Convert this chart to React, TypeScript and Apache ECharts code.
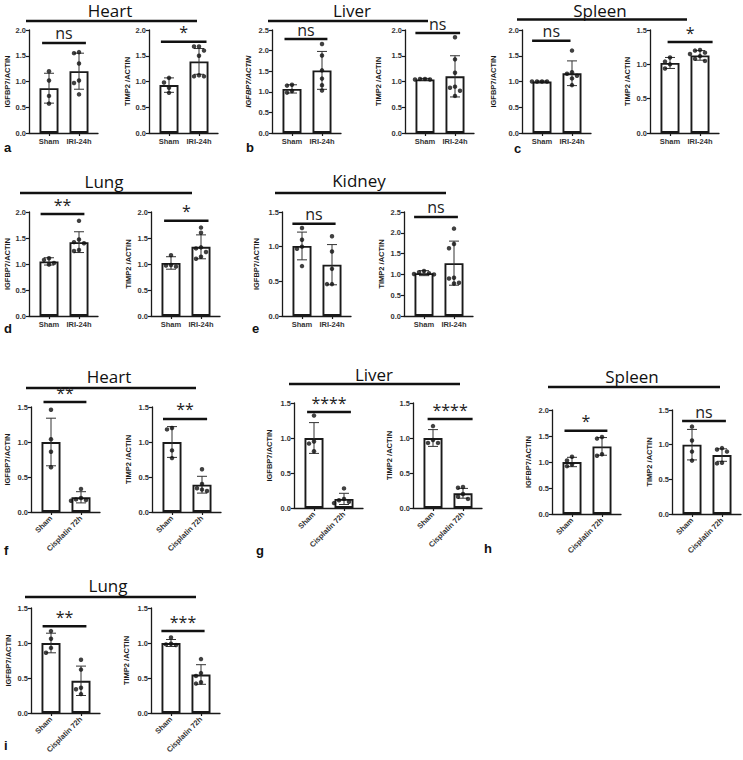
import React, { useEffect, useRef } from 'react';
import * as echarts from 'echarts';

// ---------- categories & ticks ----------
const iriCategories = ['Sham', 'IRI-24h'];
const cisCategories = ['Sham', 'Cisplatin 72h'];
const yTickStep = 0.5;

// ---------- IRI-24h panels (means, SD, individual points [sham, injury]) ----------
const heartIriIgfbp7Mean = [0.87, 1.2];
const heartIriIgfbp7Sd = [0.29, 0.35];
const heartIriIgfbp7Points = [[1.2, 1.02, 0.72, 0.57], [1.57, 1.55, 1.35, 1.02, 0.97, 0.75]];

const heartIriTimp2Mean = [0.93, 1.39];
const heartIriTimp2Sd = [0.14, 0.25];
const heartIriTimp2Points = [[1.07, 0.98, 0.88, 0.78], [1.68, 1.68, 1.6, 1.5, 1.12, 1.1, 1.1]];

const liverIriIgfbp7Mean = [1.07, 1.52];
const liverIriIgfbp7Sd = [0.1, 0.46];
const liverIriIgfbp7Points = [[1.17, 1.15, 1.02, 0.98], [2.16, 1.88, 1.52, 1.32, 1.16, 1.03]];

const liverIriTimp2Mean = [1.04, 1.1];
const liverIriTimp2Sd = [0.02, 0.4];
const liverIriTimp2Points = [[1.05, 1.05, 1.04, 1.04], [1.86, 1.43, 1.17, 0.9, 0.88, 0.82, 0.72]];

const spleenIriIgfbp7Mean = [1.0, 1.16];
const spleenIriIgfbp7Sd = [0.01, 0.24];
const spleenIriIgfbp7Points = [[1.0, 1.0, 1.0, 1.0], [1.6, 1.18, 1.15, 1.11, 1.06, 0.93]];

const spleenIriTimp2Mean = [1.02, 1.13];
const spleenIriTimp2Sd = [0.08, 0.07];
const spleenIriTimp2Points = [[1.1, 1.04, 1.0, 0.94], [1.21, 1.2, 1.17, 1.15, 1.12, 1.08, 1.05]];

const lungIriIgfbp7Mean = [1.05, 1.42];
const lungIriIgfbp7Sd = [0.07, 0.2];
const lungIriIgfbp7Points = [[1.11, 1.08, 1.02, 0.99], [1.83, 1.47, 1.42, 1.4, 1.27, 1.25]];

const lungIriTimp2Mean = [1.02, 1.33];
const lungIriTimp2Sd = [0.12, 0.23];
const lungIriTimp2Points = [[1.17, 0.98, 0.97, 0.95], [1.7, 1.6, 1.32, 1.3, 1.23, 1.14, 1.1]];

const kidneyIriIgfbp7Mean = [1.01, 0.74];
const kidneyIriIgfbp7Sd = [0.2, 0.29];
const kidneyIriIgfbp7Points = [[1.27, 1.1, 1.0, 0.97, 0.72], [1.15, 0.93, 0.68, 0.46, 0.46]];

const kidneyIriTimp2Mean = [1.03, 1.27];
const kidneyIriTimp2Sd = [0.06, 0.53];
const kidneyIriTimp2Points = [[1.08, 1.05, 1.03, 1.01, 1.0], [2.1, 1.73, 1.63, 0.92, 0.9, 0.8, 0.78]];

// ---------- Cisplatin 72h panels ----------
const heartCisIgfbp7Mean = [1.0, 0.21];
const heartCisIgfbp7Sd = [0.34, 0.08];
const heartCisIgfbp7Points = [[1.46, 1.04, 0.86, 0.64], [0.33, 0.2, 0.18, 0.17, 0.16]];

const heartCisTimp2Mean = [1.0, 0.39];
const heartCisTimp2Sd = [0.22, 0.12];
const heartCisTimp2Points = [[1.2, 1.18, 0.88, 0.77], [0.61, 0.4, 0.34, 0.32, 0.3]];

const liverCisIgfbp7Mean = [1.0, 0.13];
const liverCisIgfbp7Sd = [0.22, 0.08];
const liverCisIgfbp7Points = [[1.32, 0.95, 0.92, 0.81], [0.28, 0.13, 0.11, 0.09, 0.07]];

const liverCisTimp2Mean = [1.0, 0.21];
const liverCisTimp2Sd = [0.12, 0.07];
const liverCisTimp2Points = [[1.17, 0.97, 0.93, 0.93], [0.3, 0.29, 0.2, 0.16, 0.13]];

const spleenCisIgfbp7Mean = [1.0, 1.3];
const spleenCisIgfbp7Sd = [0.09, 0.17];
const spleenCisIgfbp7Points = [[1.1, 1.03, 0.95, 0.92], [1.48, 1.45, 1.15, 1.12]];

const spleenCisTimp2Mean = [1.0, 0.85];
const spleenCisTimp2Sd = [0.22, 0.09];
const spleenCisTimp2Points = [[1.26, 1.06, 0.9, 0.77], [0.95, 0.93, 0.9, 0.74, 0.73]];

const lungCisIgfbp7Mean = [1.0, 0.46];
const lungCisIgfbp7Sd = [0.14, 0.21];
const lungCisIgfbp7Points = [[1.17, 1.06, 0.93, 0.86], [0.76, 0.62, 0.36, 0.34, 0.27]];

const lungCisTimp2Mean = [1.0, 0.55];
const lungCisTimp2Sd = [0.05, 0.14];
const lungCisTimp2Points = [[1.08, 0.99, 0.98, 0.97], [0.77, 0.57, 0.53, 0.44, 0.42]];

// ---------- axis maxima & significance labels ----------
const yMaxIri = [2, 2, 2.5, 2, 2, 1.5, 2, 2, 1.5, 2.5];
const yMaxCis = [1.5, 1.5, 1.5, 1.5, 2, 1.5, 1.5, 1.5];
const sigIri = ['ns', '*', 'ns', 'ns', 'ns', '*', '**', '*', 'ns', 'ns'];
const sigCis = ['**', '**', '****', '****', '*', 'ns', '**', '***'];

const IGF = 'IGFBP7/ACTIN';
const TIMP = 'TIMP2 /ACTIN';

// ---------- layout (pixels / label geometry) ----------
const GRID_W = 69;
const X_MIN = -20 / 30;
const X_MAX = (GRID_W - 20) / 30;
const PX_PER_CAT = 30;

const LAYOUT = [
  { left: 29, top: 30, h: 103, gap: 17, sx: [-0.23, 1.23], sy: 1.75 },
  { left: 149, top: 30, h: 103, gap: 18, sx: [-0.27, 1.25], sy: 1.77 },
  { left: 272, top: 30, h: 103, gap: 20, sx: [-0.25, 1.18], sy: 2.28, italic: true },
  { left: 405, top: 30, h: 103, gap: 23, sx: [-0.32, 1.17], sy: 1.94 },
  { left: 522, top: 30, h: 103, gap: 25, sx: [-0.33, 0.95], sy: 1.79 },
  { left: 650, top: 30, h: 103, gap: 19, sx: [-0.08, 1.42], sy: 1.325 },
  { left: 29, top: 212, h: 104, gap: 17, sx: [-0.28, 1.18], sy: 1.96 },
  { left: 151, top: 212, h: 104, gap: 19, sx: [-0.23, 1.25], sy: 1.83 },
  { left: 282, top: 212, h: 104, gap: 22, sx: [-0.32, 1.12], sy: 1.33 },
  { left: 404, top: 212, h: 104, gap: 19, sx: [-0.33, 1.13], sy: 2.38 },
  { left: 31, top: 407, h: 105, gap: 20, sx: [-0.25, 1.18], sy: 1.57 },
  { left: 152, top: 407, h: 105, gap: 20, sx: [-0.3, 1.17], sy: 1.33 },
  { left: 294, top: 403, h: 105, gap: 21, sx: [-0.23, 1.23], sy: 1.37 },
  { left: 413, top: 403, h: 105, gap: 20, sx: [-0.18, 1.32], sy: 1.27 },
  { left: 552, top: 410, h: 104, gap: 20, sx: [-0.25, 1.18], sy: 1.6 },
  { left: 672, top: 410, h: 104, gap: 19, sx: [-0.33, 1.13], sy: 1.34 },
  { left: 31, top: 608, h: 105, gap: 19, sx: [-0.28, 1.18], sy: 1.24 },
  { left: 151, top: 608, h: 105, gap: 21, sx: [-0.32, 1.12], sy: 1.17 },
];

const TITLES = [
  { text: 'Heart', x: 110, y: 10.5, x1: 26, x2: 197, ly: 21 },
  { text: 'Liver', x: 352, y: 10.5, x1: 268, x2: 428, ly: 21 },
  { text: 'Spleen', x: 600, y: 10.5, x1: 517, x2: 687, ly: 19.5 },
  { text: 'Lung', x: 104, y: 181, x1: 20, x2: 192, ly: 193 },
  { text: 'Kidney', x: 359, y: 180, x1: 275, x2: 446, ly: 193 },
  { text: 'Heart', x: 109, y: 376, x1: 26, x2: 196, ly: 388 },
  { text: 'Liver', x: 374, y: 374, x1: 289, x2: 460, ly: 384 },
  { text: 'Spleen', x: 632, y: 376, x1: 548, x2: 720, ly: 387 },
  { text: 'Lung', x: 108, y: 585, x1: 25, x2: 196, ly: 597 },
];

const LETTERS = [
  { t: 'a', x: 4, y: 147 }, { t: 'b', x: 246, y: 147 }, { t: 'c', x: 514, y: 148 },
  { t: 'd', x: 4, y: 328 }, { t: 'e', x: 252, y: 328 },
  { t: 'f', x: 4, y: 550 }, { t: 'g', x: 256, y: 550 }, { t: 'h', x: 484, y: 548 },
  { t: 'i', x: 4, y: 745 },
];

type Panel = {
  cats: string[]; yName: string; max: number; sig: string;
  mean: number[]; sd: number[]; pts: number[][]; rotate: number;
};

const PANELS: Panel[] = [
  { cats: iriCategories, yName: IGF, max: yMaxIri[0], sig: sigIri[0], mean: heartIriIgfbp7Mean, sd: heartIriIgfbp7Sd, pts: heartIriIgfbp7Points, rotate: 0 },
  { cats: iriCategories, yName: TIMP, max: yMaxIri[1], sig: sigIri[1], mean: heartIriTimp2Mean, sd: heartIriTimp2Sd, pts: heartIriTimp2Points, rotate: 0 },
  { cats: iriCategories, yName: IGF, max: yMaxIri[2], sig: sigIri[2], mean: liverIriIgfbp7Mean, sd: liverIriIgfbp7Sd, pts: liverIriIgfbp7Points, rotate: 0 },
  { cats: iriCategories, yName: TIMP, max: yMaxIri[3], sig: sigIri[3], mean: liverIriTimp2Mean, sd: liverIriTimp2Sd, pts: liverIriTimp2Points, rotate: 0 },
  { cats: iriCategories, yName: IGF, max: yMaxIri[4], sig: sigIri[4], mean: spleenIriIgfbp7Mean, sd: spleenIriIgfbp7Sd, pts: spleenIriIgfbp7Points, rotate: 0 },
  { cats: iriCategories, yName: TIMP, max: yMaxIri[5], sig: sigIri[5], mean: spleenIriTimp2Mean, sd: spleenIriTimp2Sd, pts: spleenIriTimp2Points, rotate: 0 },
  { cats: iriCategories, yName: IGF, max: yMaxIri[6], sig: sigIri[6], mean: lungIriIgfbp7Mean, sd: lungIriIgfbp7Sd, pts: lungIriIgfbp7Points, rotate: 0 },
  { cats: iriCategories, yName: TIMP, max: yMaxIri[7], sig: sigIri[7], mean: lungIriTimp2Mean, sd: lungIriTimp2Sd, pts: lungIriTimp2Points, rotate: 0 },
  { cats: iriCategories, yName: IGF, max: yMaxIri[8], sig: sigIri[8], mean: kidneyIriIgfbp7Mean, sd: kidneyIriIgfbp7Sd, pts: kidneyIriIgfbp7Points, rotate: 0 },
  { cats: iriCategories, yName: TIMP, max: yMaxIri[9], sig: sigIri[9], mean: kidneyIriTimp2Mean, sd: kidneyIriTimp2Sd, pts: kidneyIriTimp2Points, rotate: 0 },
  { cats: cisCategories, yName: IGF, max: yMaxCis[0], sig: sigCis[0], mean: heartCisIgfbp7Mean, sd: heartCisIgfbp7Sd, pts: heartCisIgfbp7Points, rotate: 45 },
  { cats: cisCategories, yName: TIMP, max: yMaxCis[1], sig: sigCis[1], mean: heartCisTimp2Mean, sd: heartCisTimp2Sd, pts: heartCisTimp2Points, rotate: 45 },
  { cats: cisCategories, yName: IGF, max: yMaxCis[2], sig: sigCis[2], mean: liverCisIgfbp7Mean, sd: liverCisIgfbp7Sd, pts: liverCisIgfbp7Points, rotate: 45 },
  { cats: cisCategories, yName: TIMP, max: yMaxCis[3], sig: sigCis[3], mean: liverCisTimp2Mean, sd: liverCisTimp2Sd, pts: liverCisTimp2Points, rotate: 45 },
  { cats: cisCategories, yName: IGF, max: yMaxCis[4], sig: sigCis[4], mean: spleenCisIgfbp7Mean, sd: spleenCisIgfbp7Sd, pts: spleenCisIgfbp7Points, rotate: 45 },
  { cats: cisCategories, yName: TIMP, max: yMaxCis[5], sig: sigCis[5], mean: spleenCisTimp2Mean, sd: spleenCisTimp2Sd, pts: spleenCisTimp2Points, rotate: 45 },
  { cats: cisCategories, yName: IGF, max: yMaxCis[6], sig: sigCis[6], mean: lungCisIgfbp7Mean, sd: lungCisIgfbp7Sd, pts: lungCisIgfbp7Points, rotate: 45 },
  { cats: cisCategories, yName: TIMP, max: yMaxCis[7], sig: sigCis[7], mean: lungCisTimp2Mean, sd: lungCisTimp2Sd, pts: lungCisTimp2Points, rotate: 45 },
];

// simple beeswarm layout so that dots do not overlap
function swarm(vals: number[], center: number, pxPerUnit: number): number[][] {
  const placed: number[][] = [];
  const out: number[][] = [];
  const order = vals.map((_, i) => i).sort((a, b) => vals[b] - vals[a]);
  const cands = [0, -5, 5, -10, 10, -15, 15, -20, 20];
  for (const i of order) {
    const y = vals[i] * pxPerUnit;
    let off = 0;
    for (const c of cands) {
      if (placed.every(([px, py]) => Math.hypot(px - c, py - y) >= 5)) { off = c; break; }
    }
    placed.push([off, y]);
    out.push([center + off / PX_PER_CAT, vals[i]]);
  }
  return out;
}

const LABEL_FONT = 'Liberation Sans';
const INK = '#1a1a1a';

function buildOption() {
  const grid: any[] = [];
  const xAxis: any[] = [];
  const yAxis: any[] = [];
  const series: any[] = [];

  PANELS.forEach((p, i) => {
    const L = LAYOUT[i];
    grid.push({ left: L.left, top: L.top, width: GRID_W, height: L.h });
    xAxis.push({
      type: 'value', gridIndex: i, min: X_MIN, max: X_MAX,
      axisLine: { show: true, onZero: false, lineStyle: { color: INK, width: 1.3 } },
      splitLine: { show: false },
      axisTick: { show: true, customValues: [0, 1], length: 3, lineStyle: { color: INK, width: 1.2 } },
      axisLabel: {
        show: true, customValues: [0, 1],
        formatter: (v: number) => p.cats[Math.round(v)],
        rotate: p.rotate, margin: p.rotate ? 5 : 4,
        fontSize: 7.5, fontWeight: 'bold', fontFamily: LABEL_FONT, color: '#333',
      },
    });
    yAxis.push({
      type: 'value', gridIndex: i, min: 0, max: p.max, interval: yTickStep,
      name: p.yName, nameLocation: 'middle', nameGap: L.gap,
      nameTextStyle: {
        fontSize: 7.5, fontWeight: 'bold', fontFamily: LABEL_FONT, color: INK,
        fontStyle: (L as any).italic ? 'italic' : 'normal',
      },
      axisLine: { show: true, onZero: false, lineStyle: { color: INK, width: 1.3 } },
      axisTick: { show: true, length: 3, lineStyle: { color: INK, width: 1.2 } },
      splitLine: { show: false },
      axisLabel: {
        formatter: (v: number) => v.toFixed(1), margin: 3,
        fontSize: 7.5, fontWeight: 'bold', fontFamily: LABEL_FONT, color: '#333',
      },
    });
    series.push({
      type: 'bar', xAxisIndex: i, yAxisIndex: i, barWidth: 19, silent: true, z: 2,
      data: p.mean.map((m, k) => [k, m]),
      itemStyle: { color: '#fff', borderColor: INK, borderWidth: 1.9 },
    });
    series.push({
      type: 'custom', xAxisIndex: i, yAxisIndex: i, silent: true, z: 3,
      encode: { x: 0, y: 1 },
      data: p.mean.map((m, k) => [k, m, p.sd[k]]),
      renderItem: (params: any, api: any) => {
        const x = api.value(0), m = api.value(1), s = api.value(2);
        const t = api.coord([x, m + s]);
        const b = api.coord([x, m - s]);
        const cap = 5;
        const st = { stroke: '#333', lineWidth: 1 };
        return {
          type: 'group', children: [
            { type: 'line', shape: { x1: t[0], y1: t[1], x2: b[0], y2: b[1] }, style: st },
            { type: 'line', shape: { x1: t[0] - cap, y1: t[1], x2: t[0] + cap, y2: t[1] }, style: st },
            { type: 'line', shape: { x1: b[0] - cap, y1: b[1], x2: b[0] + cap, y2: b[1] }, style: st },
          ],
        };
      },
    });
    const ppu = L.h / p.max;
    const dots = [...swarm(p.pts[0], 0, ppu), ...swarm(p.pts[1], 1, ppu)];
    series.push({
      type: 'scatter', xAxisIndex: i, yAxisIndex: i, silent: true, z: 4,
      symbolSize: 4.5, itemStyle: { color: '#111' }, data: dots,
    });
    series.push({
      type: 'custom', xAxisIndex: i, yAxisIndex: i, silent: true, z: 5, clip: false,
      encode: { x: [0, 1], y: 2 },
      data: [[L.sx[0], L.sx[1], L.sy]],
      renderItem: (params: any, api: any) => {
        const a = api.coord([api.value(0), api.value(2)]);
        const b = api.coord([api.value(1), api.value(2)]);
        return {
          type: 'group', children: [
            { type: 'line', shape: { x1: a[0], y1: a[1], x2: b[0], y2: b[1] }, style: { stroke: '#111', lineWidth: 2.5 } },
            {
              type: 'text', x: (a[0] + b[0]) / 2, y: a[1] - 1.5,
              style: {
                text: p.sig, fill: '#222', fontSize: 16, fontFamily: 'Open Sans',
                align: 'center', verticalAlign: 'bottom', textAlign: 'center', textVerticalAlign: 'bottom',
              },
            },
          ],
        };
      },
    });
  });

  const graphic: any[] = [];
  TITLES.forEach((t) => {
    graphic.push({
      type: 'text', x: t.x, y: t.y, silent: true,
      style: { text: t.text, fill: '#111', fontSize: 17, lineHeight: 17, fontFamily: 'Open Sans', textAlign: 'center', textVerticalAlign: 'middle' },
    });
    graphic.push({
      type: 'line', silent: true,
      shape: { x1: t.x1, y1: t.ly, x2: t.x2, y2: t.ly },
      style: { stroke: '#111', lineWidth: 2.5 },
    });
  });
  LETTERS.forEach((l) => {
    graphic.push({
      type: 'text', x: l.x, y: l.y, silent: true,
      style: { text: l.t, fill: '#111', fontSize: 13, fontWeight: 'bold', fontFamily: LABEL_FONT, textAlign: 'left', textVerticalAlign: 'middle' },
    });
  });

  return { animation: false, backgroundColor: '#fff', grid, xAxis, yAxis, series, graphic };
}

export default function App() {
  const ref = useRef<HTMLDivElement>(null);
  useEffect(() => {
    document.body.style.margin = '0';
    if (!ref.current) return;
    const chart = echarts.init(ref.current, undefined, { renderer: 'svg' });
    chart.setOption(buildOption() as any);
    return () => chart.dispose();
  }, []);
  return <div ref={ref} style={{ width: 743, height: 760 }} />;
}
